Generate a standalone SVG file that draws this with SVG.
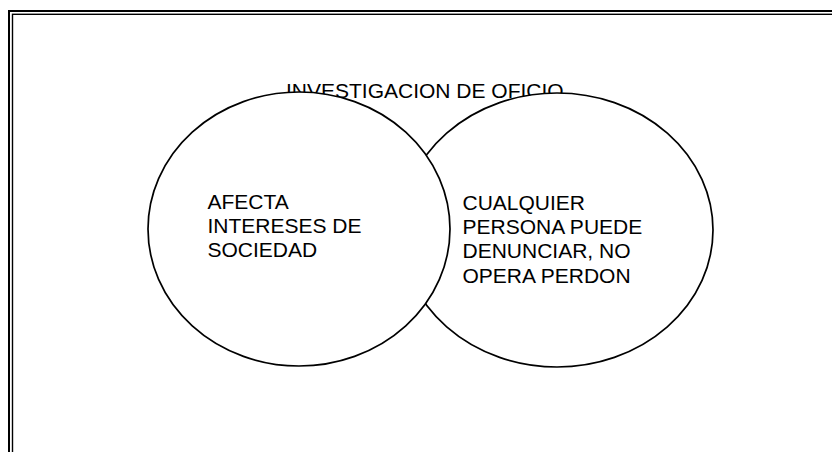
<svg xmlns="http://www.w3.org/2000/svg" width="832" height="452" viewBox="0 0 832 452">
<style>
.frame{fill:none;stroke:#000}
.ell{fill:#fff;stroke:#000;stroke-width:1.7}
.t{font-family:"Liberation Sans",Arial,sans-serif;font-size:21px;fill:#000}
</style>
<rect width="832" height="452" fill="#fff"/>
<g id="frame">
<rect class="frame" x="9" y="11" width="900" height="500" stroke-width="2"/>
<rect class="frame" x="12.5" y="14.3" width="900" height="500" stroke-width="1.4"/>
</g>
<g id="title">
<text class="t" x="286" y="97.7">INVESTIGACION DE OFICIO</text>
</g>
<g id="node-right">
<ellipse class="ell" cx="557" cy="230" rx="156" ry="137"/>
</g>
<g id="node-left">
<ellipse class="ell" cx="299" cy="229" rx="151" ry="137"/>
<text class="t" x="207.5" y="208.5">AFECTA</text>
<text class="t" x="207.5" y="232.7">INTERESES DE</text>
<text class="t" x="207.5" y="256.9">SOCIEDAD</text>
</g>
<g id="node-right-text">
<text class="t" x="462.5" y="210">CUALQUIER</text>
<text class="t" x="462.5" y="234.2">PERSONA PUEDE</text>
<text class="t" x="462.5" y="258.4">DENUNCIAR, NO</text>
<text class="t" x="462.5" y="282.6">OPERA PERDON</text>
</g>
<g id="connectors"></g>
</svg>
